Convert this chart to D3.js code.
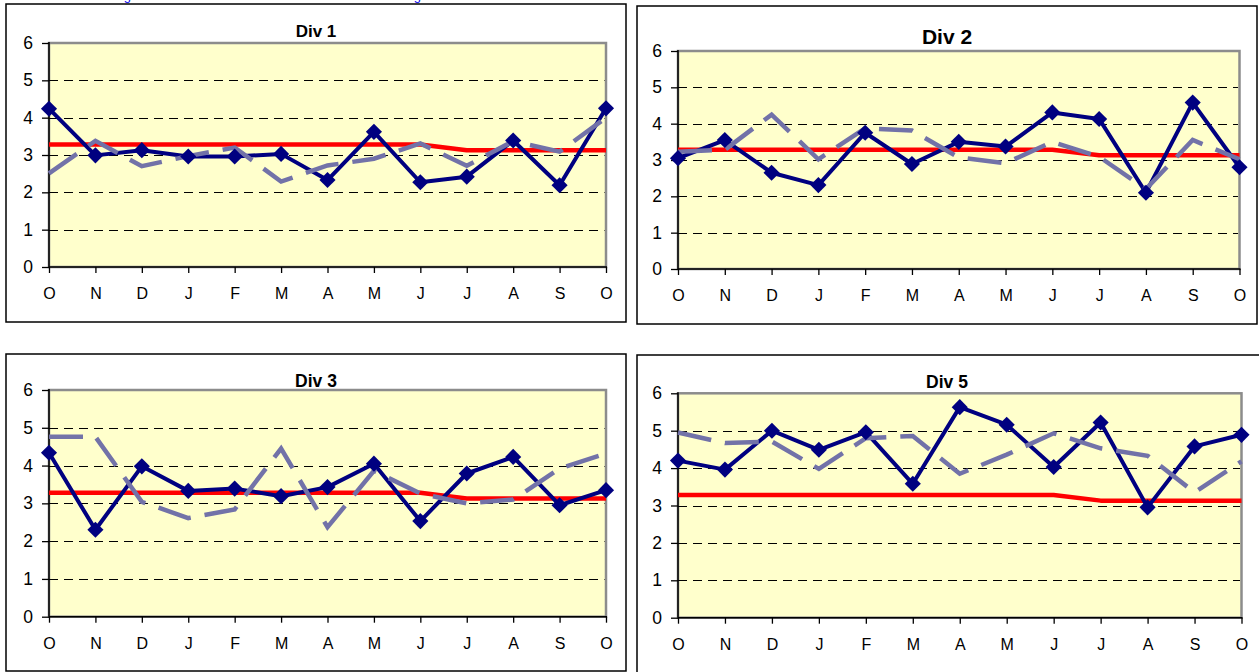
<!DOCTYPE html>
<html>
<head>
<meta charset="utf-8">
<script src="https://cdn.jsdelivr.net/npm/d3@7"></script>
<style>
  html, body { margin: 0; padding: 0; background: #fff; overflow: hidden; }
  svg { display: block; font-family: "Liberation Sans", Arial, sans-serif; }
</style>
</head>
<body>
<svg id="chart" width="1259" height="672"></svg>
<script>
// ---------- data ----------
const months = ["O","N","D","J","F","M","A","M","J","J","A","S","O"];
const yTicks = [0,1,2,3,4,5,6];
const titles = ["Div 1","Div 2","Div 3","Div 5"];
const target = [3.28,3.28,3.28,3.28,3.28,3.28,3.28,3.28,3.28,3.13,3.13,3.13,3.13];

const div1Actual = [4.24,2.99,3.13,2.96,2.96,3.03,2.33,3.62,2.27,2.42,3.39,2.19,4.25];
const div1Prior  = [2.51,3.38,2.70,2.97,3.20,2.29,2.72,2.90,3.31,2.71,3.37,3.09,4.00];

const div2Actual = [3.05,3.55,2.65,2.31,3.75,2.89,3.50,3.37,4.31,4.13,2.10,4.58,2.80];
const div2Prior  = [3.23,3.28,4.25,3.02,3.87,3.81,3.07,2.91,3.50,3.09,2.20,3.55,3.02];

const div3Actual = [4.34,2.30,3.98,3.33,3.39,3.19,3.43,4.05,2.53,3.79,4.23,2.95,3.35];
const div3Prior  = [4.76,4.76,3.04,2.61,2.84,4.45,2.37,3.86,3.26,3.00,3.10,3.92,4.32];

const div5Actual = [4.20,3.96,5.00,4.49,4.96,3.58,5.63,5.16,4.03,5.22,2.95,4.58,4.89];
const div5Prior  = [4.95,4.67,4.71,3.98,4.80,4.86,3.85,4.36,4.93,4.53,4.33,3.35,4.18];

const actualSeries = [div1Actual, div2Actual, div3Actual, div5Actual];
const priorSeries  = [div1Prior,  div2Prior,  div3Prior,  div5Prior];

// ---------- layout ----------
const panels = [
  {box:[6,4,626,322],    plot:[49,43,606,267],     titleY:36.5, titleSize:17},
  {box:[637,6,1257,324], plot:[678,51,1239.5,269], titleY:43.5, titleSize:21},
  {box:[6,354,626,671],  plot:[49,390,606,616.7],  titleY:386.5,titleSize:17.5},
  {box:[637,355,1275,700],plot:[678,393.3,1241.5,617.7], titleY:388, titleSize:17.5}
];

const svg = d3.select("#chart");

// hyperlink text at the very top (cut off by the page edge, as in the source)
svg.append("text").attr("x",131).attr("y",0).attr("text-anchor","end")
  .attr("fill","#0000ee").style("font-size","13px").text("Back to Rating");
svg.append("text").attr("x",421).attr("y",0).attr("text-anchor","end")
  .attr("fill","#0000ee").style("font-size","13px").text("Return to the Rating");

panels.forEach((p, k) => {
  const [bx0,by0,bx1,by1] = p.box;
  const [px0,py0,px1,py1] = p.plot;
  const g = svg.append("g");

  g.append("rect").attr("x",bx0).attr("y",by0).attr("width",bx1-bx0).attr("height",by1-by0)
    .attr("fill","#fff").attr("stroke","#000").attr("stroke-width",1.5);

  const x = d3.scalePoint().domain(d3.range(months.length)).range([px0,px1]).padding(0);
  const y = d3.scaleLinear().domain([0,6]).range([py1,py0]);

  // plot area
  g.append("rect").attr("x",px0).attr("y",py0).attr("width",px1-px0).attr("height",py1-py0)
    .attr("fill","#FFFFCC").attr("stroke","#8c8c8c").attr("stroke-width",2.5);

  // grid lines
  g.append("g").selectAll("line").data(yTicks.filter(t => t>0 && t<6)).join("line")
    .attr("x1",px0).attr("x2",px1-1.5)
    .attr("y1",d => Math.round(y(d))+0.5).attr("y2",d => Math.round(y(d))+0.5)
    .attr("stroke","#000").attr("stroke-width",1).attr("stroke-dasharray","9,6");

  // axes
  const ya = g.append("g").attr("transform",`translate(${px0},0)`)
    .call(d3.axisLeft(y).tickValues(yTicks).tickSize(7).tickPadding(9).tickFormat(d3.format("d")));
  ya.select(".domain").remove();
  ya.selectAll("line").attr("stroke","#000").attr("stroke-width",1.3);
  ya.selectAll("text").attr("fill","#000").style("font-size","17.5px")
    .style("font-family","'Liberation Sans', Arial, sans-serif");

  const xa = g.append("g").attr("transform",`translate(0,${py1})`)
    .call(d3.axisBottom(x).tickSize(6).tickPadding(15).tickFormat(i => months[i]));
  xa.select(".domain").remove();
  xa.selectAll("line").attr("stroke","#000").attr("stroke-width",1.3);
  xa.selectAll("text").attr("fill","#000").style("font-size","16px")
    .style("font-family","'Liberation Sans', Arial, sans-serif");

  // black axis lines
  g.append("line").attr("x1",px0).attr("x2",px0).attr("y1",py0-1).attr("y2",py1)
    .attr("stroke","#000").attr("stroke-width",1.5);
  g.append("line").attr("x1",px0).attr("x2",px1+1).attr("y1",py1).attr("y2",py1)
    .attr("stroke","#000").attr("stroke-width",1.5);

  const line = d3.line().x((d,i) => x(i)).y(d => y(d));

  // target line (red)
  g.append("path").datum(target).attr("d",line).attr("fill","none")
    .attr("stroke","#FF0000").attr("stroke-width",4.5).attr("stroke-linejoin","round");

  // actual line (navy)
  g.append("path").datum(actualSeries[k]).attr("d",line).attr("fill","none")
    .attr("stroke","#000080").attr("stroke-width",4).attr("stroke-linejoin","round");

  // prior year (dashed)
  g.append("path").datum(priorSeries[k]).attr("d",line).attr("fill","none")
    .attr("stroke","#7272A8").attr("stroke-width",4.5)
    .attr("stroke-dasharray","34,14").attr("stroke-linecap","butt");

  // diamond markers
  const diamond = d3.symbol().type(d3.symbolSquare).size(130);
  g.append("g").selectAll("path").data(actualSeries[k]).join("path")
    .attr("d",diamond)
    .attr("transform",(d,i) => `translate(${x(i)},${y(d)}) rotate(45)`)
    .attr("fill","#000080");

  // title
  g.append("text").attr("x",(bx0+ Math.min(bx1,1257))/2).attr("y",p.titleY)
    .attr("text-anchor","middle").attr("font-weight","bold")
    .style("font-size",p.titleSize+"px").attr("fill","#000").text(titles[k]);
});
</script>
</body>
</html>
